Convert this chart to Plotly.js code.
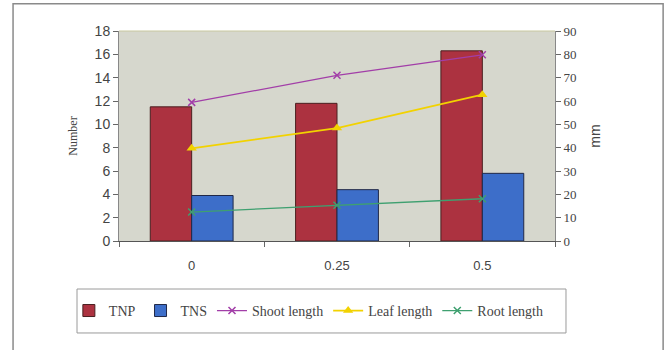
<!DOCTYPE html>
<html><head><meta charset="utf-8">
<script src="https://cdn.plot.ly/plotly-3.0.1.min.js"></script>
<style>body{margin:0;background:#fff}#c{width:668px;height:350px}</style>
</head><body><div id="c"></div>
<script>
const categories = ['0', '0.25', '0.5'];
const tnp = [11.5, 11.8, 16.3];
const tns = [3.9, 4.4, 5.8];
const shootLength = [59.4, 71.0, 79.8];
const leafLength = [39.7, 48.4, 62.7];
const rootLength = [12.4, 15.3, 18.1];

const serif = '"Liberation Serif", "Times New Roman", serif';
const sans = '"Liberation Sans", Arial, sans-serif';

const traces = [
  {type:'bar', name:'TNP', x:categories, y:tnp, marker:{color:'#ac3240', line:{color:'#4a2020', width:1}}},
  {type:'bar', name:'TNS', x:categories, y:tns, marker:{color:'#3d6ec9', line:{color:'#202848', width:1}}},
  {type:'scatter', mode:'lines+markers', name:'Shoot length', x:categories, y:shootLength, yaxis:'y2',
   line:{color:'#a23ea8', width:1.3}, marker:{symbol:'x-thin-open', size:7, color:'#a23ea8', line:{color:'#a23ea8', width:1.5}}},
  {type:'scatter', mode:'lines+markers', name:'Leaf length', x:categories, y:leafLength, yaxis:'y2',
   line:{color:'#f2d200', width:1.8}, marker:{symbol:'triangle-up', size:9, color:'#f2d200'}},
  {type:'scatter', mode:'lines+markers', name:'Root length', x:categories, y:rootLength, yaxis:'y2',
   line:{color:'#3fa070', width:1.3}, marker:{symbol:'x-thin-open', size:7, color:'#3fa070', line:{color:'#3fa070', width:1.5}}}
];

const layout = {
  width:668, height:350,
  margin:{l:119, r:113, t:31, b:109},
  paper_bgcolor:'#ffffff',
  plot_bgcolor:'#d6d7cd',
  barmode:'group', bargap:0.43, bargroupgap:0,
  showlegend:true,
  legend:{orientation:'h', x:-0.115, y:-0.333, xanchor:'left', yanchor:'middle',
    borderwidth:0, bgcolor:'rgba(0,0,0,0)',
    font:{family:serif, size:14, color:'#444'}, itemwidth:30, tracegroupgap:0, traceorder:'normal'},
  xaxis:{type:'category', tickson:'boundaries', ticks:'outside', ticklen:5, tickcolor:'#666',
    showline:true, linecolor:'#555', linewidth:1, showgrid:false, zeroline:false, ticklabelstandoff:12,
    tickfont:{family:sans, size:13, color:'#444'}},
  yaxis:{range:[0,18], dtick:2, ticks:'outside', ticklen:5, tickcolor:'#666', showgrid:false, zeroline:false,
    showline:true, linecolor:'#888', mirror:false,
    tickfont:{family:sans, size:14, color:'#444'},
    title:{text:'Number', font:{family:serif, size:12, color:'#444'}, standoff:14}},
  yaxis2:{range:[0,90], dtick:10, overlaying:'y', side:'right', ticks:'outside', ticklen:5, tickcolor:'#666',
    showgrid:false, zeroline:false, showline:true, linecolor:'#888',
    tickfont:{family:serif, size:13, color:'#444'},
    title:{text:'mm', font:{family:sans, size:14, color:'#444'}, standoff:14}},
  shapes:[
    {type:'rect', xref:'paper', yref:'paper', x0:-0.243, x1:1.248, y0:1.13, y1:-0.6,
     line:{color:'#8a8a8a', width:1.5}, fillcolor:'rgba(0,0,0,0)', layer:'below'},
    {type:'rect', xref:'paper', yref:'paper', x0:-0.0963, x1:1.0252, y0:-0.2286, y1:-0.438,
     line:{color:'#9a9a9a', width:1}, fillcolor:'rgba(0,0,0,0)', layer:'below'},
    {type:'line', xref:'paper', yref:'paper', x0:0, x1:1, y0:1, y1:1, line:{color:'#c8c8a0', width:1}}
  ]
};
Plotly.newPlot('c', traces, layout, {displayModeBar:false, staticPlot:true});
</script></body></html>
